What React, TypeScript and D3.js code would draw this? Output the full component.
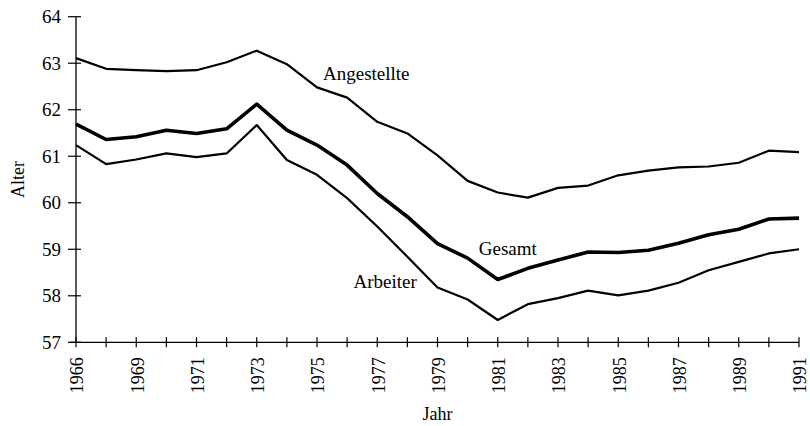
import React, { useEffect, useRef } from 'react'
import * as d3 from 'd3'

// Jahre (1967 fehlt in der Vorlage)
const years = ['1966', '1968', '1969', '1970', '1971', '1972', '1973', '1974', '1975', '1976',
  '1977', '1978', '1979', '1980', '1981', '1982', '1983', '1984', '1985', '1986',
  '1987', '1988', '1989', '1990', '1991']

const angestellte = [63.11, 62.88, 62.85, 62.83, 62.85, 63.02, 63.27, 62.98, 62.48, 62.26,
  61.74, 61.49, 61.02, 60.47, 60.22, 60.11, 60.32, 60.37, 60.59, 60.69,
  60.76, 60.78, 60.86, 61.12, 61.09]

const gesamt = [61.69, 61.36, 61.42, 61.56, 61.49, 61.59, 62.12, 61.56, 61.24, 60.81,
  60.20, 59.70, 59.12, 58.81, 58.35, 58.59, 58.77, 58.94, 58.93, 58.98,
  59.13, 59.31, 59.43, 59.65, 59.67]

const arbeiter = [61.24, 60.83, 60.93, 61.06, 60.98, 61.06, 61.67, 60.92, 60.60, 60.10,
  59.49, 58.84, 58.18, 57.92, 57.48, 57.82, 57.95, 58.11, 58.01, 58.11,
  58.28, 58.55, 58.73, 58.91, 59.00]

const yTicks = [57, 58, 59, 60, 61, 62, 63, 64]

// Beschriftungen der Linien (Position in Datenkoordinaten: Index, Wert)
const seriesLabels = [
  { text: 'Angestellte', at: 8.2, value: 62.64 },
  { text: 'Gesamt', at: 13.37, value: 58.88 },
  { text: 'Arbeiter', at: 9.21, value: 58.16 },
]

const width = 810
const height = 426
const font = '"Liberation Serif", "Times New Roman", serif'

function AlterChart() {
  const ref = useRef<SVGSVGElement>(null)

  useEffect(() => {
    drawChart()
  })

  function drawChart() {
    const svg = d3.select(ref.current)
    svg.selectAll('*').remove()

    const x = d3.scalePoint<string>().domain(years).range([76, 799])
    const y = d3.scaleLinear().domain([57, 64]).range([342.3, 16.7])
    const xi = (i: number) => 76 + i * x.step()

    svg.append('rect')
      .attr('width', width)
      .attr('height', height)
      .style('fill', '#ffffff')

    // y axis
    svg.append('line')
      .attr('x1', x(years[0])!).attr('x2', x(years[0])!)
      .attr('y1', y(64)).attr('y2', y(57))
      .style('stroke', '#000').style('stroke-width', 1.3)

    svg.append('g').selectAll('line')
      .data(yTicks)
      .enter()
      .append('line')
      .attr('x1', x(years[0])! - 8).attr('x2', x(years[0])! + 5)
      .attr('y1', d => y(d)).attr('y2', d => y(d))
      .style('stroke', '#000').style('stroke-width', 1.2)

    svg.append('g').selectAll('text')
      .data(yTicks)
      .enter()
      .append('text')
      .attr('x', 61)
      .attr('y', d => y(d))
      .attr('dy', '0.35em')
      .attr('text-anchor', 'end')
      .style('font-family', font)
      .style('font-size', '19px')
      .text(d => d)

    // x axis
    svg.append('line')
      .attr('x1', 70).attr('x2', x(years[years.length - 1])!)
      .attr('y1', y(57)).attr('y2', y(57))
      .style('stroke', '#000').style('stroke-width', 1.3)

    svg.append('g').selectAll('line')
      .data(years)
      .enter()
      .append('line')
      .attr('x1', d => x(d)!).attr('x2', d => x(d)!)
      .attr('y1', y(57) - 5).attr('y2', y(57) + 5)
      .style('stroke', '#000').style('stroke-width', 1.2)

    svg.append('g').selectAll('text')
      .data(years.filter((d, i) => i % 2 === 0))
      .enter()
      .append('text')
      .attr('transform', d => `translate(${x(d)! + 1}, ${y(57) + 15}) rotate(-90)`)
      .attr('dy', '0.35em')
      .attr('text-anchor', 'end')
      .style('font-family', font)
      .style('font-size', '18px')
      .text(d => d)

    // axis titles
    svg.append('text')
      .attr('x', x(years[12])!)
      .attr('y', 420)
      .attr('text-anchor', 'middle')
      .style('font-family', font)
      .style('font-size', '18px')
      .text('Jahr')

    svg.append('text')
      .attr('transform', `translate(24, ${(y(57) + y(64)) / 2}) rotate(-90)`)
      .attr('text-anchor', 'middle')
      .style('font-family', font)
      .style('font-size', '18px')
      .text('Alter')

    // lines
    const line = d3.line<number>()
      .x((d, i) => x(years[i])!)
      .y(d => y(d))

    const series = [
      { values: angestellte, w: 2.2 },
      { values: arbeiter, w: 2.2 },
      { values: gesamt, w: 3.6 },
    ]

    svg.append('g').selectAll('path')
      .data(series)
      .enter()
      .append('path')
      .attr('d', d => line(d.values))
      .style('fill', 'none')
      .style('stroke', '#000')
      .style('stroke-width', d => d.w)
      .style('stroke-linejoin', 'round')

    // labels
    svg.append('g').selectAll('text')
      .data(seriesLabels)
      .enter()
      .append('text')
      .attr('x', d => xi(d.at))
      .attr('y', d => y(d.value))
      .style('font-family', font)
      .style('font-size', '19px')
      .text(d => d.text)
  }

  return (
    <svg
      ref={ref}
      width={width}
      height={height}
      style={{ position: 'absolute', left: 0, top: 0, display: 'block' }}
    />
  )
}

export default function App() {
  return <AlterChart />
}
